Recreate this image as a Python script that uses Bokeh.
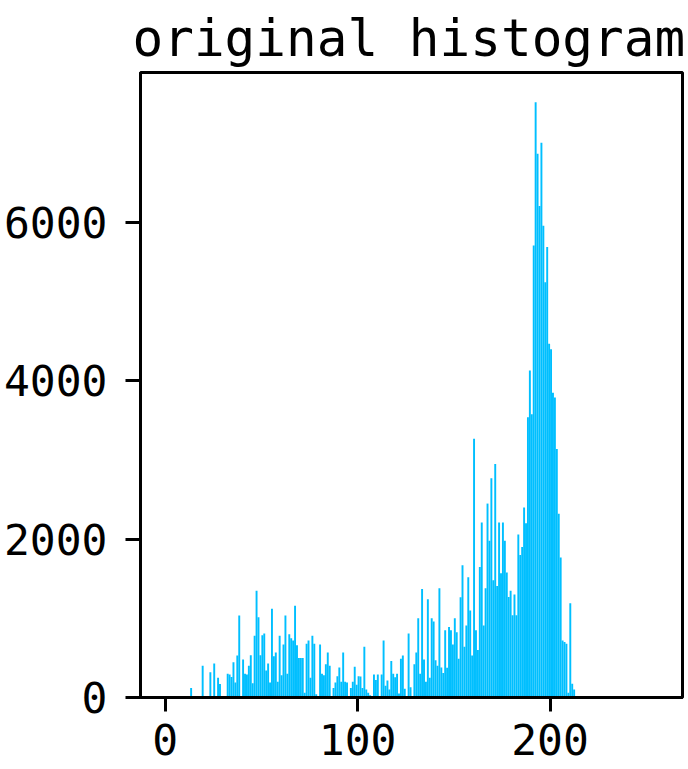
from bokeh.plotting import figure
from bokeh.models import Range1d, FixedTicker, ColumnDataSource
from bokeh.embed import file_html
from bokeh.resources import INLINE

# Histogram of grey levels (256 bins of width 1, 0..255)
bin_left = list(range(256))
counts = [
    # 0-15
    0, 0, 0, 0, 0, 0, 0, 0, 0, 0, 0, 0, 0, 120, 0, 0,
    # 16-31
    0, 0, 0, 400, 0, 0, 0, 320, 0, 430, 0, 250, 170, 0, 0, 0,
    # 32-47
    300, 290, 260, 445, 190, 530, 1035, 0, 480, 300, 290, 400, 535, 180, 780, 1350,
    # 48-63
    1015, 535, 785, 810, 340, 430, 190, 1120, 520, 570, 200, 780, 280, 670, 1035, 300,
    # 64-79
    800, 750, 720, 1160, 660, 500, 500, 500, 60, 680, 720, 250, 780, 680, 40, 0,
    # 80-95
    670, 300, 280, 420, 570, 400, 0, 120, 190, 270, 380, 200, 570, 200, 190, 0,
    # 96-111
    120, 200, 390, 160, 270, 265, 120, 640, 100, 60, 30, 0, 290, 220, 290, 0,
    # 112-127
    290, 720, 150, 215, 100, 460, 300, 255, 300, 50, 490, 530, 110, 0, 810, 130,
    # 128-143
    0, 420, 570, 1000, 300, 1370, 480, 200, 1240, 250, 1000, 960, 470, 400, 1380, 380,
    # 144-159
    310, 850, 375, 890, 850, 670, 1000, 825, 490, 1265, 1670, 640, 910, 1520, 1100, 530,
    # 160-175
    3270, 850, 600, 1650, 2210, 910, 1380, 2450, 1980, 2770, 1480, 2950, 1410, 2210, 1570, 2210,
    # 176-191
    1980, 1580, 1270, 1350, 1040, 1300, 1040, 2060, 1800, 1900, 2400, 2200, 3540, 4130, 3580, 5710,
    # 192-207
    7520, 6870, 6210, 7010, 5960, 5245, 5690, 4470, 4400, 3850, 3790, 3140, 2320, 1770, 720, 700,
    # 208-223
    680, 60, 1190, 175, 100, 0, 0, 0, 0, 0, 0, 0, 0, 0, 0, 0,
    # 224-239
    0, 0, 0, 0, 0, 0, 0, 0, 0, 0, 0, 0, 0, 0, 0, 0,
    # 240-255
    0, 0, 0, 0, 0, 0, 0, 0, 0, 0, 0, 0, 0, 0, 0, 0,
]
x_ticks = [0, 100, 200]
y_ticks = [0, 2000, 4000, 6000]
title_text = "original histogram"

FONT = "DejaVu Sans Mono"

src = ColumnDataSource(dict(
    left=bin_left,
    right=[b + 1 for b in bin_left],
    top=counts,
    bottom=[0] * len(counts),
))

p = figure(width=688, height=769, output_backend="svg", toolbar_location=None,
           x_range=Range1d(-12.8, 268.8), y_range=Range1d(0, max(counts) * 1.05),
           title=title_text, min_border_right=6, min_border_left=0,
           min_border_top=72, min_border_bottom=72)

p.quad(left="left", right="right", top="top", bottom="bottom", source=src,
       fill_color="#00BFFF", line_color=None)

p.title.text_font = FONT
p.title.text_font_size = "51px"
p.title.text_font_style = "normal"
p.title.align = "left"
p.title.offset = -8
p.title.text_color = "black"
p.title.standoff = 9

p.xgrid.visible = False
p.ygrid.visible = False
p.outline_line_color = "black"
p.outline_line_width = 3
p.outline_line_alpha = 1

for ax in (p.xaxis[0], p.yaxis[0]):
    ax.axis_line_width = 3
    ax.axis_line_color = "black"
    ax.major_tick_line_width = 3
    ax.major_tick_line_color = "black"
    ax.major_tick_in = 0
    ax.minor_tick_out = 0
    ax.minor_tick_in = 0
    ax.major_label_text_font = FONT
    ax.major_label_text_font_size = "43px"
    ax.major_label_text_color = "black"

p.xaxis[0].major_tick_out = 14
p.yaxis[0].major_tick_out = 15
p.xaxis[0].major_label_standoff = 12
p.yaxis[0].major_label_standoff = 18

p.xaxis[0].ticker = FixedTicker(ticks=x_ticks)
p.yaxis[0].ticker = FixedTicker(ticks=y_ticks)

open("out.html", "w").write(file_html(p, INLINE))
